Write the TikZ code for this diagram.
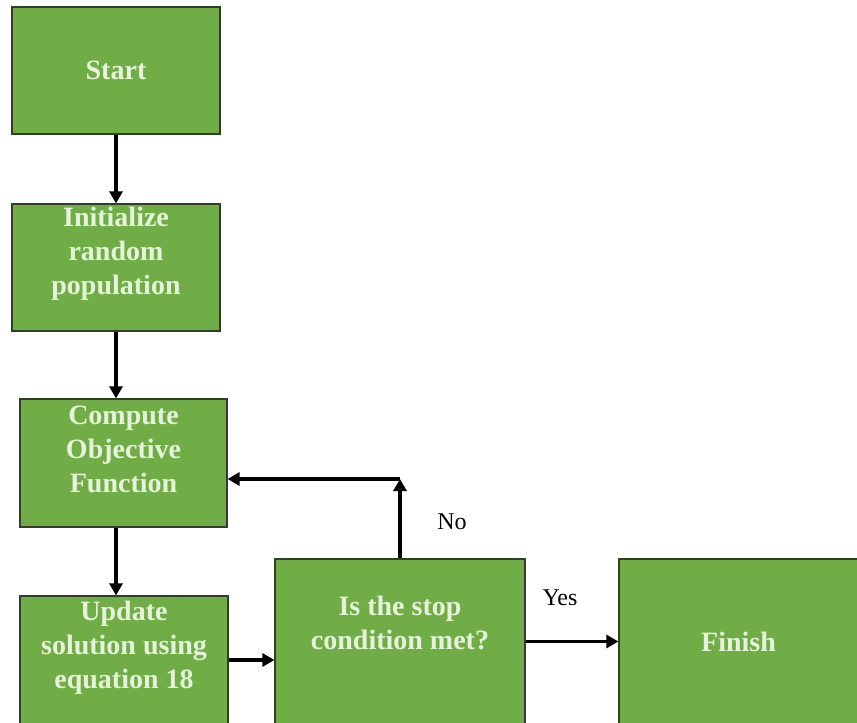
\documentclass[tikz,border=0pt]{standalone}
\usepackage{fontspec}
\setmainfont{Liberation Serif}
\usetikzlibrary{arrows.meta,calc}
\definecolor{boxgreen}{RGB}{112,173,71}
\definecolor{boxedge}{RGB}{50,62,42}
\definecolor{boxtext}{RGB}{230,243,218}
\tikzset{
  stepbox/.style={draw=boxedge, line width=1.2pt, fill=boxgreen, inner sep=0pt},
  boxlabel/.style={text=boxtext, align=center, inner sep=0pt,
    font={\fontsize{28}{34}\selectfont\bfseries}},
  sidelabel/.style={text=black, inner sep=0pt, font={\fontsize{24}{28}\selectfont}},
  flow/.style={line width=3.3pt, -{Triangle[length=12pt,width=13pt]}},
}
\begin{document}
\begin{tikzpicture}[x=1pt,y=-1pt]
\useasboundingbox (0,0) rectangle (857,723);

% boxes
\node[stepbox, minimum width=208pt, minimum height=127pt] (start) at (116,70.5) {};
\node[stepbox, minimum width=208pt, minimum height=127pt] (init)  at (116,267.5) {};
\node[stepbox, minimum width=207pt, minimum height=128pt] (comp)  at (123.5,463) {};
\node[stepbox, minimum width=208pt, minimum height=128pt] (upd)   at (124,660) {};
\node[stepbox, minimum width=250pt, minimum height=165pt] (cond)  at (400,641.5) {};
\node[stepbox, minimum width=239pt, minimum height=165pt] (fin)   at (738.5,641.5) {};

% box texts
\node[boxlabel] (startT) at (116,70) {Start};
\node[boxlabel] (initT)  at (116,254) {Initialize\\random\\population};
\node[boxlabel] (compT)  at (123.5,449) {Compute\\Objective\\Function};
\node[boxlabel] (updT)   at (124,648) {Update\\solution using\\equation 18};
\node[boxlabel] (condT)  at (400,623) {Is the stop\\condition met?};
\node[boxlabel] (finT)   at (738.5,642) {Finish};

% side labels
\node[sidelabel] (yes) at (560,598) {Yes};
\node[sidelabel] (no)  at (452,522) {No};

% connectors
\coordinate (loop) at (400,479);
\draw[flow] (start.south) -- (init.north);
\draw[flow] (init.south) -- (init.south |- comp.north);
\draw[flow] (comp.south -| start.south) -- (upd.north -| start.south);
\draw[flow] (upd.east) -- (upd.east -| cond.west);
\draw[flow] (cond.east) -- (fin.west);
\draw[flow] (cond.north) -- (loop);
\draw[flow] (loop) -- (loop -| comp.east);
\end{tikzpicture}
\end{document}
